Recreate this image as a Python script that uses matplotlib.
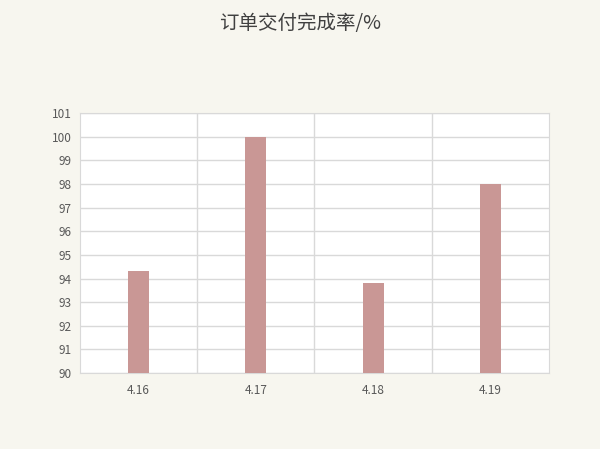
import matplotlib.pyplot as plt

plt.rcParams['font.family'] = ['Noto Sans CJK SC', 'DejaVu Sans']

dates = ['4.16', '4.17', '4.18', '4.19']
rates = [94.3, 100.0, 93.8, 98.0]

bg = '#f7f6ef'
fig = plt.figure(figsize=(6, 4.49), dpi=100, facecolor=bg)
ax = fig.add_axes([0.1333, 0.169, 0.7817, 0.579])
ax.set_facecolor('white')

x = range(len(dates))
ax.bar(x, [r - 90 for r in rates], bottom=90, width=0.18, color='#c99795', zorder=3)

ax.set_xlim(-0.5, len(dates) - 0.5)
ax.set_ylim(90, 101)
ax.set_yticks(range(90, 102))
ax.set_xticks(list(x))
ax.set_xticklabels(dates)
# vertical lines at category boundaries
ax.set_xticks([i + 0.5 for i in range(len(dates) - 1)], minor=True)
ax.grid(axis='y', color='#d9d9d9', linewidth=1, zorder=0)
ax.grid(axis='x', which='minor', color='#d9d9d9', linewidth=1, zorder=0)
ax.tick_params(axis='both', which='both', length=0, labelsize=8.5, colors='#595959')
ax.tick_params(axis='x', pad=8)
ax.tick_params(axis='y', pad=6)
for s in ax.spines.values():
    s.set_color('#d9d9d9')

fig.text(0.5, 0.948, '订单交付完成率/%', ha='center', va='center', fontsize=14, color='#404040')

fig.savefig('out.png', dpi=100, facecolor=bg)
